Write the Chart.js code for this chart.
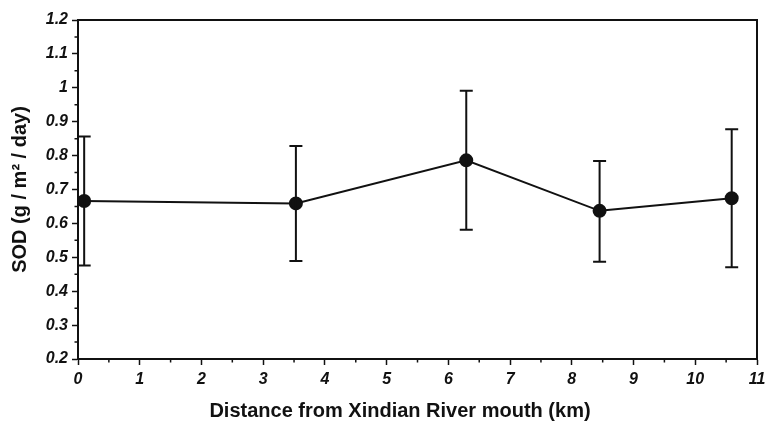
<!DOCTYPE html>
<html>
<head>
<meta charset="utf-8">
<script src="https://cdn.jsdelivr.net/npm/chart.js@4/dist/chart.umd.min.js"></script>
<style>
  html, body { margin: 0; padding: 0; background: #fff; }
  #wrap { width: 774px; height: 421px; }
</style>
</head>
<body>
<div id="wrap"><canvas id="sod"></canvas></div>
<script>
// distance from river mouth (km) and SOD mean / error range
const distances = [0.1, 3.53, 6.29, 8.45, 10.59];
const sodMean = [0.666, 0.659, 0.786, 0.637, 0.674];
const sodUpper = [0.856, 0.828, 0.991, 0.784, 0.878];
const sodLower = [0.476, 0.489, 0.581, 0.487, 0.471];

const xMinorTicks = [0.5, 1.5, 2.5, 3.5, 4.5, 5.5, 6.5, 7.5, 8.5, 9.5, 10.5];
const yMinorTicks = [0.25, 0.35, 0.45, 0.55, 0.65, 0.75, 0.85, 0.95, 1.05, 1.15];

const xTitle = 'Distance from Xindian River mouth (km)';
const yTitle = 'SOD (g / m² / day)';

const FAMILY = 'Liberation Sans, Arial, sans-serif';
const tickFont = { family: FAMILY, size: 16, style: 'italic', weight: 'bold' };
const titleFont = { family: FAMILY, size: 20, weight: 'bold' };

// error bars, box frame, minor ticks, x title
const extras = {
  id: 'extras',
  afterDatasetsDraw(chart) {
    const { ctx, chartArea: a, scales: { x, y } } = chart;
    ctx.save();
    ctx.strokeStyle = '#111';
    ctx.lineWidth = 2;
    distances.forEach((d, i) => {
      const px = x.getPixelForValue(d);
      const top = y.getPixelForValue(sodUpper[i]);
      const bot = y.getPixelForValue(sodLower[i]);
      ctx.beginPath();
      ctx.moveTo(px, top); ctx.lineTo(px, bot);
      ctx.moveTo(px - 6.5, top); ctx.lineTo(px + 6.5, top);
      ctx.moveTo(px - 6.5, bot); ctx.lineTo(px + 6.5, bot);
      ctx.stroke();
    });
    // frame
    ctx.beginPath();
    ctx.moveTo(a.left, a.top); ctx.lineTo(a.right, a.top); ctx.lineTo(a.right, a.bottom);
    ctx.stroke();
    // minor ticks
    ctx.lineWidth = 1.5;
    ctx.beginPath();
    xMinorTicks.forEach(v => {
      const px = x.getPixelForValue(v);
      ctx.moveTo(px, a.bottom); ctx.lineTo(px, a.bottom + 3.5);
    });
    yMinorTicks.forEach(v => {
      const py = y.getPixelForValue(v);
      ctx.moveTo(a.left, py); ctx.lineTo(a.left - 3.5, py);
    });
    ctx.stroke();
    // x axis title (sits a little left of the plot centre in the original)
    ctx.fillStyle = '#111';
    ctx.font = `bold ${titleFont.size}px ${FAMILY}`;
    ctx.textAlign = 'center';
    ctx.textBaseline = 'alphabetic';
    ctx.fillText(xTitle, 400, 417);
    ctx.restore();
  }
};

new Chart(document.getElementById('sod'), {
  type: 'scatter',
  data: {
    datasets: [{
      data: distances.map((d, i) => ({ x: d, y: sodMean[i] })),
      showLine: true,
      borderColor: '#111',
      borderWidth: 2,
      backgroundColor: '#111',
      pointRadius: 6,
      pointHoverRadius: 6
    }]
  },
  options: {
    responsive: true,
    maintainAspectRatio: false,
    animation: false,
    layout: { padding: { top: 20, right: 17, left: 0, bottom: 0 } },
    plugins: { legend: { display: false }, tooltip: { enabled: false } },
    scales: {
      x: {
        type: 'linear',
        min: 0, max: 11,
        afterFit: s => { s.height = 62; },
        border: { color: '#111', width: 2 },
        grid: { drawOnChartArea: false, tickLength: 6, tickColor: '#111', tickWidth: 1.5 },
        ticks: { stepSize: 1, color: '#111', font: tickFont, padding: 5, maxRotation: 0 }
      },
      y: {
        min: 0.2, max: 1.2,
        afterFit: s => { s.width = 78; },
        border: { color: '#111', width: 2 },
        grid: { drawOnChartArea: false, tickLength: 6, tickColor: '#111', tickWidth: 1.5 },
        ticks: {
          stepSize: 0.1, color: '#111', font: tickFont, padding: 4,
          callback: v => String(Number(v.toFixed(1)))
        },
        title: { display: true, text: yTitle, color: '#111', font: titleFont, padding: { top: 8, bottom: 8 } }
      }
    }
  },
  plugins: [extras]
});
</script>
</body>
</html>
